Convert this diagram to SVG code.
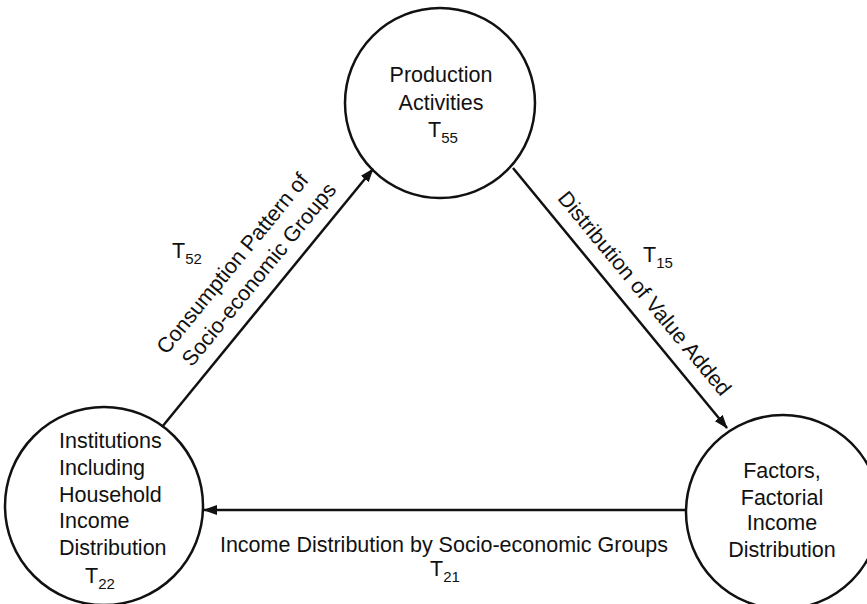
<svg xmlns="http://www.w3.org/2000/svg" width="867" height="604" viewBox="0 0 867 604">
<style>
.node{fill:none;stroke:#111;stroke-width:2.5}
.t{font-family:"Liberation Sans",Arial,sans-serif;font-size:21.5px;fill:#111}
.c{text-anchor:middle}
.sub{font-size:15px}
.edge{stroke:#111;stroke-width:2.5;fill:none;marker-end:url(#ah)}
</style>
<defs>
<marker id="ah" viewBox="0 0 14 10" refX="13" refY="5" markerWidth="14" markerHeight="10" markerUnits="userSpaceOnUse" orient="auto">
<path d="M0,0 L14,5 L0,10 Z" fill="#111"/>
</marker>
</defs>
<rect width="867" height="604" fill="#fff"/>
<g id="connectors">
<line class="edge" x1="162" y1="427" x2="373" y2="169"/>
<line class="edge" x1="513" y1="168" x2="727" y2="428"/>
<line class="edge" x1="686" y1="510" x2="204" y2="510"/>
<text class="t c" transform="translate(238,268) rotate(-50.7)">Consumption Pattern of</text>
<text class="t c" transform="translate(262,282) rotate(-50.7)" dx="4">Socio-economic Groups</text>
<text class="t" x="172" y="258">T<tspan class="sub" dy="6">52</tspan></text>
<text class="t c" transform="translate(639,298) rotate(50.4)">Distribution of Value Added</text>
<text class="t" x="643" y="262">T<tspan class="sub" dy="6">15</tspan></text>
<text class="t c" x="444" y="552">Income Distribution by Socio-economic Groups</text>
<text class="t" x="430" y="576">T<tspan class="sub" dy="6">21</tspan></text>
</g>
<g id="production">
<circle class="node" cx="440" cy="103" r="95"/>
<text class="t c" x="441" y="82">Production</text>
<text class="t c" x="441" y="110">Activities</text>
<text class="t" x="428" y="137">T<tspan class="sub" dy="6">55</tspan></text>
</g>
<g id="institutions">
<circle class="node" cx="104" cy="506" r="99"/>
<text class="t" x="59" y="448">Institutions</text>
<text class="t" x="59" y="475">Including</text>
<text class="t" x="59" y="502">Household</text>
<text class="t" x="59" y="528">Income</text>
<text class="t" x="59" y="555">Distribution</text>
<text class="t" x="85" y="583">T<tspan class="sub" dy="6">22</tspan></text>
</g>
<g id="factors">
<circle class="node" cx="783" cy="512" r="97"/>
<text class="t c" x="782" y="478">Factors,</text>
<text class="t c" x="782" y="505">Factorial</text>
<text class="t c" x="782" y="530">Income</text>
<text class="t c" x="782" y="557">Distribution</text>
</g>
</svg>
